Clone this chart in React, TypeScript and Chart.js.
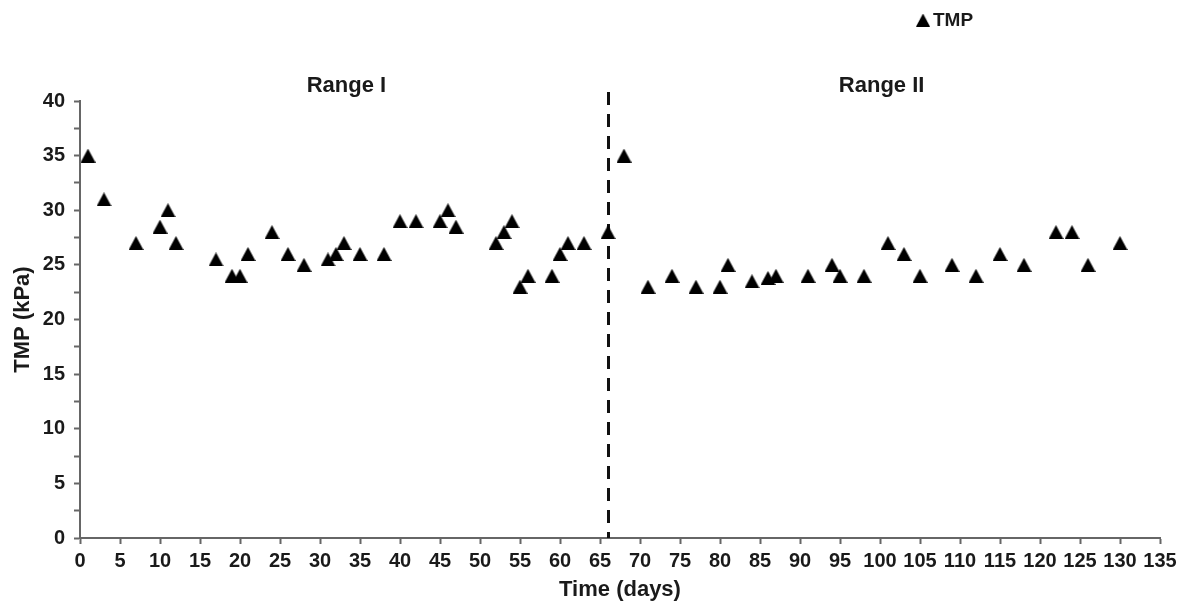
import React, { useEffect, useRef } from 'react';
import { Chart, registerables } from 'chart.js';

Chart.register(...registerables);

// ---- Data ----
const days = [
  1, 3, 7, 10, 11, 12, 17, 19, 20, 21, 24, 26, 28, 31, 32, 33, 35, 38, 40, 42, 45, 46, 47,
  52, 53, 54, 55, 56, 59, 60, 61, 63, 66, 68, 71, 74, 77, 80, 81, 84, 86, 87, 91, 94, 95,
  98, 101, 103, 105, 109, 112, 115, 118, 122, 124, 126, 130,
];
const tmp = [
  35, 31, 27, 28.5, 30, 27, 25.5, 24, 24, 26, 28, 26, 25, 25.5, 26, 27, 26, 26, 29, 29, 29, 30, 28.5,
  27, 28, 29, 23, 24, 24, 26, 27, 27, 28, 35, 23, 24, 23, 23, 25, 23.5, 23.8, 24, 24, 25, 24,
  24, 27, 26, 24, 25, 24, 26, 25, 28, 28, 25, 27,
];
const seriesLabel = 'TMP';
const xTitle = 'Time (days)';
const yTitle = 'TMP (kPa)';
const rangeLabels = ['Range I', 'Range II'];
const rangeCenters = [33.3, 100.2];
const dividerDay = 66;
const xMin = 0;
const xMax = 135;
const xStep = 5;
const yMin = 0;
const yMax = 40;
const yMinorStep = 2.5;
const yMajorStep = 5;

const FONT = '"Liberation Sans", Arial, sans-serif';
const TEXT = '#1a1a1a';
const AXIS = '#666666';

function makeTriangle(): HTMLCanvasElement {
  const c = document.createElement('canvas');
  c.width = 15;
  c.height = 14;
  const g = c.getContext('2d')!;
  g.fillStyle = '#000';
  g.beginPath();
  g.moveTo(7.5, 0);
  g.lineTo(15, 14);
  g.lineTo(0, 14);
  g.closePath();
  g.fill();
  return c;
}

export default function App() {
  const ref = useRef<HTMLCanvasElement | null>(null);

  useEffect(() => {
    if (!ref.current) return;
    const tri = makeTriangle();

    const overlay = {
      id: 'overlay',
      beforeDatasetsDraw(chart: any) {
        const { ctx, chartArea, scales } = chart;
        const x = Math.round(scales.x.getPixelForValue(dividerDay)) + 0.5;
        ctx.save();
        ctx.strokeStyle = '#111';
        ctx.lineWidth = 3;
        ctx.setLineDash([13, 9]);
        ctx.beginPath();
        ctx.moveTo(x, chartArea.top - 9);
        ctx.lineTo(x, chartArea.bottom);
        ctx.stroke();
        ctx.restore();
      },
      afterDraw(chart: any) {
        const { ctx, chartArea, scales } = chart;
        ctx.save();
        ctx.fillStyle = TEXT;
        ctx.font = `bold 22px ${FONT}`;
        ctx.textAlign = 'center';
        ctx.textBaseline = 'alphabetic';
        rangeLabels.forEach((t, i) => {
          ctx.fillText(t, scales.x.getPixelForValue(rangeCenters[i]), chartArea.top - 9);
        });
        // legend
        const lx = 923;
        const ly = 20;
        ctx.drawImage(tri, lx - 7, ly - 6.5, 14, 13);
        ctx.font = `bold 19px ${FONT}`;
        ctx.textAlign = 'left';
        ctx.textBaseline = 'middle';
        ctx.fillText(chart.data.datasets[0].label, lx + 10, ly + 1);
        ctx.restore();
      },
    };

    const chart = new Chart(ref.current, {
      type: 'scatter',
      data: {
        datasets: [
          {
            label: seriesLabel,
            data: days.map((d, i) => ({ x: d, y: tmp[i] })),
            pointStyle: tri as any,
            pointRadius: 7,
            pointHoverRadius: 7,
            showLine: false,
          },
        ],
      },
      options: {
        animation: false,
        responsive: true,
        maintainAspectRatio: false,
        layout: { padding: { left: 0, right: 30, top: 101, bottom: 0 } },
        plugins: {
          legend: { display: false },
          tooltip: { enabled: false },
        },
        scales: {
          x: {
            type: 'linear',
            min: xMin,
            max: xMax,
            afterFit: (s: any) => {
              s.height = 64;
            },
            afterBuildTicks: (s: any) => {
              const t = [];
              for (let v = xMin; v <= xMax; v += xStep) t.push({ value: v });
              s.ticks = t;
            },
            ticks: {
              autoSkip: false,
              maxRotation: 0,
              minRotation: 0,
              padding: 5,
              color: TEXT,
              font: { family: FONT, size: 20, weight: 'bold' },
            },
            grid: {
              drawOnChartArea: false,
              drawTicks: true,
              tickLength: 6,
              tickWidth: 2,
              tickColor: AXIS,
            },
            border: { display: true, color: AXIS, width: 2 },
            title: {
              display: true,
              text: xTitle,
              color: TEXT,
              font: { family: FONT, size: 22, weight: 'bold', lineHeight: 1.2 },
              padding: { top: 0, bottom: -1 },
            },
          },
          y: {
            type: 'linear',
            min: yMin,
            max: yMax,
            afterFit: (s: any) => {
              s.width = 80;
            },
            afterBuildTicks: (s: any) => {
              const t = [];
              for (let v = yMin; v <= yMax + 1e-9; v += yMinorStep) t.push({ value: v });
              s.ticks = t;
            },
            ticks: {
              autoSkip: false,
              padding: 9,
              color: TEXT,
              font: { family: FONT, size: 20, weight: 'bold' },
              callback: (v: any) => (Math.abs(v % yMajorStep) < 1e-9 ? String(v) : ''),
            },
            grid: {
              drawOnChartArea: false,
              drawTicks: true,
              tickLength: 6,
              tickWidth: 2,
              tickColor: AXIS,
            },
            border: { display: true, color: AXIS, width: 2 },
            title: {
              display: true,
              text: yTitle,
              color: TEXT,
              font: { family: FONT, size: 22, weight: 'bold', lineHeight: 1.2 },
              padding: { top: 10, bottom: 0 },
            },
          },
        },
      },
      plugins: [overlay],
    });

    return () => chart.destroy();
  }, []);

  return (
    <div style={{ position: 'fixed', left: 0, top: 0, width: 1190, height: 602, background: '#fff' }}>
      <canvas ref={ref} />
    </div>
  );
}
